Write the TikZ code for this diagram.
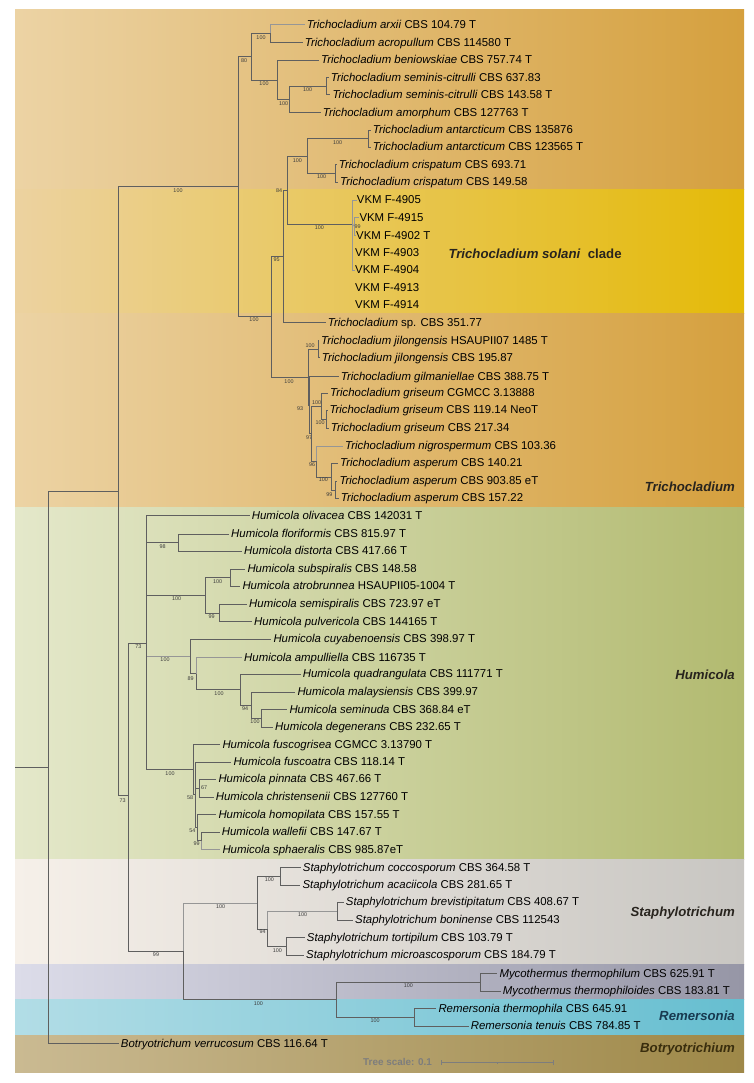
\documentclass[tikz,border=0pt]{standalone}
\usepackage{fontspec}
\setmainfont{Liberation Sans}
\definecolor{trL}{RGB}{236,211,164}
\definecolor{trR}{RGB}{213,160,62}
\definecolor{soL}{RGB}{236,210,160}
\definecolor{soR}{RGB}{228,186,8}
\definecolor{huL}{RGB}{228,232,202}
\definecolor{huR}{RGB}{178,186,112}
\definecolor{stL}{RGB}{246,240,233}
\definecolor{stR}{RGB}{200,198,194}
\definecolor{myL}{RGB}{220,220,233}
\definecolor{myR}{RGB}{150,150,166}
\definecolor{reL}{RGB}{178,221,230}
\definecolor{reR}{RGB}{102,190,208}
\definecolor{boL}{RGB}{202,186,146}
\definecolor{boR}{RGB}{158,136,72}
\definecolor{brc}{RGB}{95,95,95}
\definecolor{brlc}{RGB}{150,150,150}
\definecolor{bootc}{RGB}{60,60,60}
\definecolor{cladec}{RGB}{40,36,30}
\definecolor{remc}{RGB}{24,58,80}
\definecolor{botc}{RGB}{58,46,14}
\definecolor{scalec}{RGB}{125,125,125}
\tikzset{
  br/.style={draw=brc, line width=0.8pt},
  brl/.style={draw=brlc, line width=0.8pt},
  leaf/.style={anchor=west, inner sep=0pt, text height=9pt, text depth=1.4pt,
    font=\fontsize{11.4}{13}\selectfont, text=black},
  boot/.style={inner sep=0pt, font=\fontsize{5.4}{6}\selectfont, text=bootc},
  clade/.style={anchor=east, inner sep=0pt, font=\fontsize{13.2}{15}\selectfont\bfseries\itshape, text=cladec},
}
\newcommand\myleaf[4]{\node[leaf] (#1) at (#2,#3) {#4};}
\newcommand\mylink[2]{\draw[br] (#1) |- ([xshift=-2pt]#2.west);}
\newcommand\myedge[2]{\draw[br] (#1) |- (#2);}
\newcommand\myboot[3]{\node[boot] (#1) at (#2) {#3};}
\begin{document}
\begin{tikzpicture}[x=1pt,y=-1pt]
\useasboundingbox (0,0) rectangle (754,1083);
\fill[white] (0,0) rectangle (754,1083);
% backgrounds
\shade[left color=trL, right color=trR] (15,10) rectangle (744,190);
\shade[left color=soL, right color=soR] (15,190) rectangle (744,313);
\shade[left color=trL, right color=trR] (15,313) rectangle (744,507);
\shade[left color=huL, right color=huR] (15,507) rectangle (744,859);
\shade[left color=stL, right color=stR] (15,859) rectangle (744,964);
\shade[left color=myL, right color=myR] (15,964) rectangle (744,999);
\shade[left color=reL, right color=reR] (15,999) rectangle (744,1035);
\shade[left color=boL, right color=boR] (15,1035) rectangle (744,1072);

% ---- root ----
\coordinate (rootL) at (15,767);
\coordinate (n0) at (48,767);
\draw[br] (rootL) -- (n0);
\coordinate (nBig) at (118.3,491);
\myedge{n0}{nBig}
\myleaf{botry}{120.7}{1043.3}{\textit{Botryotrichum verrucosum} CBS 116.64 T}
\mylink{n0}{botry}

\coordinate (nT) at (238.3,186.7);
\coordinate (n73a) at (128.3,795);
\myedge{nBig}{nT} \myboot{bT}{178,190.7}{100}
\myedge{nBig}{n73a} \myboot{b73a}{122.7,800.7}{73}

% ---- Trichocladium upper ----
\coordinate (nA) at (251.7,56.7);
\coordinate (nB) at (271,316.7);
\myedge{nT}{nA} \myboot{bA}{244,61}{80}
\myedge{nT}{nB} \myboot{bB}{254,320}{100}
\coordinate (nA1) at (270,33.3);
\coordinate (nA2) at (277.7,80);
\myedge{nA}{nA1} \myboot{bA1}{261,37.7}{100}
\myedge{nA}{nA2} \myboot{bA2}{264,83.7}{100}
\myleaf{arxii}{306.7}{24.3}{\textit{Trichocladium arxii} CBS 104.79 T}
\myleaf{acrop}{304.7}{42.3}{\textit{Trichocladium acropullum} CBS 114580 T}
\draw[brl] (nA1) |- ([xshift=-2pt]arxii.west);
\mylink{nA1}{acrop}
\myleaf{benio}{321}{60}{\textit{Trichocladium beniowskiae} CBS 757.74 T}
\mylink{nA2}{benio}
\coordinate (nA3) at (289.3,99.5);
\myedge{nA2}{nA3} \myboot{bA3}{283.7,103.3}{100}
\coordinate (nA4) at (326.7,86);
\myedge{nA3}{nA4} \myboot{bA4}{307.7,90}{100}
\myleaf{amorp}{322.7}{112.3}{\textit{Trichocladium amorphum} CBS 127763 T}
\mylink{nA3}{amorp}
\myleaf{semA}{330.7}{77.3}{\textit{Trichocladium seminis-citrulli} CBS 637.83}
\myleaf{semB}{332.3}{94.7}{\textit{Trichocladium seminis-citrulli} CBS 143.58 T}
\mylink{nA4}{semA}
\mylink{nA4}{semB}

% ---- Trichocladium lower ----
\coordinate (nC) at (283.3,256.7);
\coordinate (nH) at (308.3,377.2);
\myedge{nB}{nC} \myboot{bC}{276.7,260}{95}
\myedge{nB}{nH} \myboot{bH}{289,381.7}{100}
\coordinate (nD) at (287.7,190.5);
\myedge{nC}{nD} \myboot{bD}{279,190.7}{84}
\myleaf{tsp}{327.7}{322.7}{\textit{Trichocladium} sp. CBS 351.77}
\mylink{nC}{tsp}
\coordinate (nE) at (307.3,156.3);
\coordinate (nF) at (352.5,224);
\myedge{nD}{nE} \myboot{bE}{297.3,160.3}{100}
\myedge{nD}{nF} \myboot{bF}{319.3,227.7}{100}
\coordinate (nE1) at (368.3,138.5);
\coordinate (nE2) at (335.7,173.3);
\myedge{nE}{nE1} \myboot{bE1}{337.7,142.7}{100}
\myedge{nE}{nE2} \myboot{bE2}{321.7,177}{100}
\myleaf{antA}{372.7}{130}{\textit{Trichocladium antarcticum} CBS 135876}
\myleaf{antB}{372.7}{147}{\textit{Trichocladium antarcticum} CBS 123565 T}
\mylink{nE1}{antA}
\mylink{nE1}{antB}
\myleaf{criA}{338.7}{164.7}{\textit{Trichocladium crispatum} CBS 693.71}
\myleaf{criB}{340}{182}{\textit{Trichocladium crispatum} CBS 149.58}
\mylink{nE2}{criA}
\mylink{nE2}{criB}
% VKM clade
\myleaf{v05}{356.7}{200}{VKM F-4905}
\myleaf{v15}{359.3}{217.7}{VKM F-4915}
\myleaf{v02}{356}{235.3}{VKM F-4902 T}
\myleaf{v03}{355}{252.3}{VKM F-4903}
\myleaf{v04}{355}{270}{VKM F-4904}
\myleaf{v13}{355}{287.7}{VKM F-4913}
\myleaf{v14}{355}{305}{VKM F-4914}
\coordinate (nF1) at (354.5,226.5);
\draw[brl] (nF) |- (v05.west);
\draw[brl] (nF) |- (v04.west);
\draw[brl] (nF) -- (nF1);
\draw[brl] (nF1) |- (v15.west);
\draw[brl] (nF1) |- (v02.west);
\myboot{bF1}{357.7,226.7}{99}
% jilongensis / griseum / asperum
\coordinate (nJ) at (318.3,349);
\coordinate (n93) at (309.5,405.2);
\myedge{nH}{nJ} \myboot{bJ}{310,346}{100}
\myedge{nH}{n93} \myboot{b93}{300,409}{93}
\myleaf{jilA}{321}{340.5}{\textit{Trichocladium jilongensis} HSAUPII07 1485 T}
\myleaf{jilB}{321.7}{357.7}{\textit{Trichocladium jilongensis} CBS 195.87}
\mylink{nJ}{jilA}
\mylink{nJ}{jilB}
\myleaf{gilm}{340.7}{376.7}{\textit{Trichocladium gilmaniellae} CBS 388.75 T}
\mylink{n93}{gilm}
\coordinate (n97) at (311.5,433.7);
\myedge{n93}{n97} \myboot{b97}{309,437.7}{97}
\coordinate (nG) at (321.7,406);
\coordinate (n96) at (316.7,461.4);
\myedge{n97}{nG} \myboot{bG}{316.7,402.7}{100}
\myedge{n97}{n96} \myboot{b96}{312,465}{96}
\myleaf{grA}{330}{393}{\textit{Trichocladium griseum} CGMCC 3.13888}
\mylink{nG}{grA}
\coordinate (nG2) at (326.7,419.2);
\myedge{nG}{nG2} \myboot{bG2}{320,423}{100}
\myleaf{grB}{329.3}{410}{\textit{Trichocladium griseum} CBS 119.14 NeoT}
\myleaf{grC}{330.7}{428}{\textit{Trichocladium griseum} CBS 217.34}
\mylink{nG2}{grB}
\mylink{nG2}{grC}
\myleaf{nigr}{345}{446}{\textit{Trichocladium nigrospermum} CBS 103.36}
\draw[brl] (n96) |- ([xshift=-2pt]nigr.west);
\coordinate (nS) at (331.7,477);
\myedge{n96}{nS} \myboot{bS}{323.3,480}{100}
\myleaf{aspA}{340}{463}{\textit{Trichocladium asperum} CBS 140.21}
\mylink{nS}{aspA}
\coordinate (nS2) at (335,490.5);
\myedge{nS}{nS2} \myboot{bS2}{329.3,494.3}{99}
\myleaf{aspB}{339.3}{481}{\textit{Trichocladium asperum} CBS 903.85 eT}
\myleaf{aspC}{340.7}{498}{\textit{Trichocladium asperum} CBS 157.22}
\mylink{nS2}{aspB}
\mylink{nS2}{aspC}

% ---- Humicola ----
\coordinate (nHum) at (146.7,643);
\coordinate (n99) at (183.3,951.3);
\myedge{n73a}{nHum} \myboot{bHum}{138.3,646.7}{73}
\myedge{n73a}{n99} \myboot{b99}{156,955}{99}
\myleaf{oliv}{251.7}{515.7}{\textit{Humicola olivacea} CBS 142031 T}
\mylink{nHum}{oliv}
\coordinate (n98) at (178.3,542.5);
\myedge{nHum}{n98} \myboot{b98}{162.7,546.7}{98}
\myleaf{flor}{231}{534}{\textit{Humicola floriformis} CBS 815.97 T}
\myleaf{dist}{244}{551}{\textit{Humicola distorta} CBS 417.66 T}
\mylink{n98}{flor}
\mylink{n98}{dist}
\coordinate (nH2) at (205,595);
\myedge{nHum}{nH2} \myboot{bH2}{176.7,599}{100}
\coordinate (nH2a) at (230,577.5);
\coordinate (nH2b) at (219,613);
\myedge{nH2}{nH2a} \myboot{bH2a}{217.7,581.7}{100}
\myedge{nH2}{nH2b} \myboot{bH2b}{211.7,616.7}{99}
\myleaf{subs}{247.3}{569}{\textit{Humicola subspiralis} CBS 148.58}
\myleaf{atro}{242.3}{586}{\textit{Humicola atrobrunnea} HSAUPII05-1004 T}
\mylink{nH2a}{subs}
\mylink{nH2a}{atro}
\myleaf{semi}{249}{604}{\textit{Humicola semispiralis} CBS 723.97 eT}
\myleaf{pulv}{254}{621.7}{\textit{Humicola pulvericola} CBS 144165 T}
\mylink{nH2b}{semi}
\mylink{nH2b}{pulv}
\coordinate (nH3) at (190.7,656.5);
\draw[brl] (nHum) |- (nH3); \myboot{bH3}{165,660}{100}
\myleaf{cuya}{273.3}{639}{\textit{Humicola cuyabenoensis} CBS 398.97 T}
\mylink{nH3}{cuya}
\coordinate (n89) at (196.7,673.6);
\myedge{nH3}{n89} \myboot{b89}{190.7,678.3}{89}
\myleaf{ampu}{244}{657.3}{\textit{Humicola ampulliella} CBS 116735 T}
\draw[brl] (n89) |- ([xshift=-2pt]ampu.west);
\coordinate (nQ) at (240,689.5);
\myedge{n89}{nQ} \myboot{bQ}{219,693.3}{100}
\myleaf{quad}{302.7}{674}{\textit{Humicola quadrangulata} CBS 111771 T}
\mylink{nQ}{quad}
\coordinate (n94) at (251.7,705);
\myedge{nQ}{n94} \myboot{b94}{245,709}{94}
\myleaf{mala}{297.3}{692}{\textit{Humicola malaysiensis} CBS 399.97}
\mylink{n94}{mala}
\coordinate (nSD) at (261.7,718.3);
\myedge{n94}{nSD} \myboot{bSD}{255,721.7}{100}
\myleaf{semn}{289.3}{709.7}{\textit{Humicola seminuda} CBS 368.84 eT}
\myleaf{dege}{275}{727}{\textit{Humicola degenerans} CBS 232.65 T}
\mylink{nSD}{semn}
\mylink{nSD}{dege}
\coordinate (nH4) at (193.3,769.5);
\myedge{nHum}{nH4} \myboot{bH4}{170,773.3}{100}
\myleaf{fgri}{222.3}{744.3}{\textit{Humicola fuscogrisea} CGMCC 3.13790 T}
\mylink{nH4}{fgri}
\coordinate (n58) at (195.7,794.8);
\myedge{nH4}{n58} \myboot{b58}{190,797.7}{58}
\myleaf{fatr}{233.3}{762}{\textit{Humicola fuscoatra} CBS 118.14 T}
\mylink{n58}{fatr}
\coordinate (n67) at (199,788);
\coordinate (n54) at (197.3,827.6);
\myedge{n58}{n67}
\node[boot, anchor=west] (b67) at (201,787.3) {67};
\myedge{n58}{n54} \myboot{b54}{192.3,830.7}{54}
\myleaf{pinn}{218.3}{779}{\textit{Humicola pinnata} CBS 467.66 T}
\myleaf{chri}{215.7}{797}{\textit{Humicola christensenii} CBS 127760 T}
\mylink{n67}{pinn}
\mylink{n67}{chri}
\myleaf{homo}{218.3}{814.3}{\textit{Humicola homopilata} CBS 157.55 T}
\mylink{n54}{homo}
\coordinate (nWS) at (201.7,840.8);
\myedge{n54}{nWS} \myboot{bWS}{196.7,844}{99}
\myleaf{wall}{221.7}{832}{\textit{Humicola wallefii} CBS 147.67 T}
\myleaf{spha}{222.3}{849.7}{\textit{Humicola sphaeralis} CBS 985.87eT}
\mylink{nWS}{wall}
\draw[brl] (nWS) |- ([xshift=-2pt]spha.west);

% ---- Staphylotrichum ----
\coordinate (nSt) at (257.3,903.3);
\coordinate (nMR) at (336,999.7);
\draw[brl] (n99) |- (nSt); \myboot{bSt}{220.7,906.7}{100}
\myedge{n99}{nMR} \myboot{bMR}{258.3,1004}{100}
\coordinate (nSt1) at (280.7,876.2);
\coordinate (n94s) at (267.7,929.2);
\myedge{nSt}{nSt1} \myboot{bSt1}{269.3,880}{100}
\myedge{nSt}{n94s} \myboot{b94s}{262.7,931.7}{94}
\myleaf{cocc}{302.7}{867.3}{\textit{Staphylotrichum coccosporum} CBS 364.58 T}
\myleaf{acac}{302.3}{885}{\textit{Staphylotrichum acaciicola} CBS 281.65 T}
\mylink{nSt1}{cocc}
\mylink{nSt1}{acac}
\coordinate (nSt2) at (337.3,911);
\coordinate (nSt3) at (286,946.4);
\draw[brl] (n94s) |- (nSt2); \myboot{bSt2}{302.7,915}{100}
\myedge{n94s}{nSt3} \myboot{bSt3}{277.3,950.7}{100}
\myleaf{brev}{345.7}{902}{\textit{Staphylotrichum brevistipitatum} CBS 408.67 T}
\myleaf{boni}{355}{920}{\textit{Staphylotrichum boninense} CBS 112543}
\mylink{nSt2}{brev}
\mylink{nSt2}{boni}
\myleaf{tort}{306.7}{937.7}{\textit{Staphylotrichum tortipilum} CBS 103.79 T}
\myleaf{micr}{306}{955}{\textit{Staphylotrichum microascosporum} CBS 184.79 T}
\mylink{nSt3}{tort}
\mylink{nSt3}{micr}

% ---- Mycothermus / Remersonia ----
\coordinate (nMy) at (480.7,982.2);
\coordinate (nRe) at (414,1017.2);
\myedge{nMR}{nMy} \myboot{bMy}{408.3,986}{100}
\myedge{nMR}{nRe} \myboot{bRe}{375,1021}{100}
\myleaf{mthA}{499.3}{973.3}{\textit{Mycothermus thermophilum} CBS 625.91 T}
\myleaf{mthB}{502.7}{991}{\textit{Mycothermus thermophiloides} CBS 183.81 T}
\mylink{nMy}{mthA}
\mylink{nMy}{mthB}
\myleaf{remA}{438.3}{1008.3}{\textit{Remersonia thermophila} CBS 645.91}
\myleaf{remB}{470.7}{1026}{\textit{Remersonia tenuis} CBS 784.85 T}
\mylink{nRe}{remA}
\mylink{nRe}{remB}

% ---- clade labels ----
\node[anchor=west, inner sep=0pt, font=\fontsize{13.2}{15}\selectfont\bfseries, text=cladec] (cSol) at (448.3,253.3) {\textit{Trichocladium solani}\ \ clade};
\node[clade] (cT) at (735,486.7) {Trichocladium};
\node[clade] (cH) at (735,674.3) {Humicola};
\node[clade] (cS) at (735,912.7) {Staphylotrichum};
\node[clade, text=remc] (cR) at (735,1016) {Remersonia};
\node[clade, text=botc] (cB) at (735,1049.3) {Botryotrichium};

% ---- tree scale ----
\node[inner sep=0pt, font=\fontsize{9.9}{11}\selectfont\bfseries, text=scalec] (tsc) at (397.5,1062) {Tree scale: 0.1};
\coordinate (sbA) at (441,1062.7);
\coordinate (sbB) at (553.3,1062.7);
\coordinate (sbM) at (497.2,1062.7);
\draw[draw=scalec, line width=0.7pt] (sbA) -- (sbB);
\draw[draw=scalec, line width=0.7pt] ([yshift=-2.5pt]sbA) -- ([yshift=2.5pt]sbA);
\draw[draw=scalec, line width=0.7pt] ([yshift=-2.5pt]sbB) -- ([yshift=2.5pt]sbB);
\draw[draw=scalec, line width=0.5pt] ([yshift=-1.2pt]sbM) -- ([yshift=1.2pt]sbM);
\end{tikzpicture}
\end{document}
